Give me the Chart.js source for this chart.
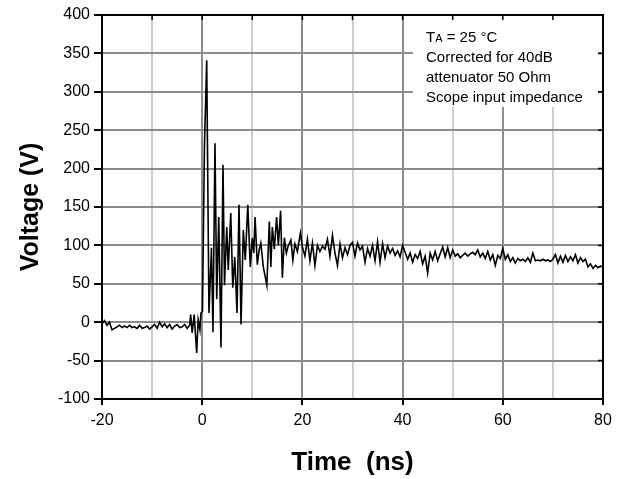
<!DOCTYPE html>
<html>
<head>
<meta charset="utf-8">
<script src="https://cdn.jsdelivr.net/npm/chart.js@4/dist/chart.umd.min.js"></script>
<style>
    html, body { margin: 0; padding: 0; background: #fff; }
    #wrap { width: 624px; height: 479px; position: relative; }
</style>
</head>
<body>
<div id="wrap"><canvas id="pulse-chart"></canvas></div>
<script>
// pre-trigger baseline, sampled every 0.5 ns from -20 ns
const preStart = -20;
const preStep = 0.5;
const preVoltage = [-2, 2, -4, 0, -10, -8, -6, -4, -7, -5, -7, -4, -7, -6, -8, -4, -8, -7,
    -5, -9, -6, -3, -8, 0, -6, -2, -7, -3, -9, -5, -3, -7, -6, -3, -8, -4];

// ringing around the edge, read peak by peak
const burstTime = [-2.3, -2.0, -1.6, -1.1, -0.8, -0.45, -0.25, 0.05, 0.45, 0.9, 1.35, 1.85, 2.15, 2.55,
    2.9, 3.3, 3.75, 4.15, 4.45, 4.9, 5.2, 5.7, 6.1, 6.5, 6.95, 7.35, 7.75, 8.2, 8.6, 9.1, 9.6, 10.0,
    10.3, 10.55, 11.0, 11.4, 11.7, 12.2, 12.9, 13.4, 13.7, 14.0, 14.4, 14.85, 15.2, 15.65, 16.0, 16.4,
    16.8, 17.2, 17.7, 18.1, 18.5, 19.0, 19.6, 20.0];
const burstVoltage = [10, -14, 10, -40, 3, -10, 12, 14, 230, 341, 12, 97, -13, 233,
    30, 137, -33, 205, 48, 124, 68, 142, 45, 85, 12, 153, -3, 120, 81, 153, 72, 110,
    90, 137, 75, 95, 103, 72, 48, 131, 72, 124, 95, 137, 100, 145, 58, 110,
    90, 100, 107, 81, 102, 92, 116, 98];

// settling tail, sampled every 0.5 ns from 20.5 ns
const tailStart = 20.5;
const tailStep = 0.5;
const tailVoltage = [86, 108, 80, 103, 74, 100, 92, 99, 95, 108, 86, 113, 90, 74, 102, 84, 97, 88, 100, 104,
    86, 103, 94, 99, 78, 96, 86, 100, 80, 105, 78, 102, 84, 99, 90, 96, 87, 93, 85, 100,
    91, 82, 90, 78, 88, 83, 92, 76, 86, 64, 90, 81, 92, 80, 89, 98, 85, 97, 84, 94,
    86, 89, 84, 87, 90, 86, 89, 91, 88, 94, 85, 90, 83, 92, 81, 88, 74, 87, 83, 96,
    82, 88, 79, 84, 77, 83, 80, 82, 79, 84, 78, 90, 80, 81, 80, 82, 80, 81, 79, 82,
    88, 77, 86, 78, 87, 79, 85, 80, 88, 77, 84, 79, 82, 72, 76, 70, 74, 71, 73, 72];

const xTicksMajor = [-20, 0, 20, 40, 60, 80];
const noteLines = ["Corrected for 40dB", "attenuator 50 Ohm", "Scope input impedance"];

const points = [];
preVoltage.forEach((v, i) => points.push({x: preStart + i * preStep, y: v}));
burstTime.forEach((t, i) => points.push({x: t, y: burstVoltage[i]}));
tailVoltage.forEach((v, i) => points.push({x: tailStart + i * tailStep, y: v}));

const fontFamily = "'Liberation Sans', Arial, sans-serif";

const framePlugin = {
    id: "frame",
    beforeDatasetsDraw(chart) {
        const ctx = chart.ctx;
        const area = chart.chartArea;
        // white note box over the grid
        ctx.save();
        ctx.fillStyle = "#fff";
        ctx.fillRect(413, area.top, area.right - 5 - 413, 107 - area.top);

        ctx.fillStyle = "#000";
        ctx.textBaseline = "alphabetic";
        ctx.font = "15px " + fontFamily;
        let x = 426;
        ctx.fillText("T", x, 42);
        x += ctx.measureText("T").width;
        ctx.font = "11px " + fontFamily;
        ctx.fillText("A", x, 42);
        x += ctx.measureText("A").width;
        ctx.font = "15px " + fontFamily;
        ctx.fillText(" = 25 \u00b0C", x, 42);
        noteLines.forEach((line, i) => ctx.fillText(line, 426, 62 + i * 20));
        ctx.restore();
    },
    afterDraw(chart) {
        const ctx = chart.ctx;
        const area = chart.chartArea;
        const xs = chart.scales.x;
        const ys = chart.scales.y;
        ctx.save();
        ctx.strokeStyle = "#000";
        ctx.lineWidth = 1.5;
        ctx.beginPath();
        xs.ticks.forEach(t => {
            const px = xs.getPixelForValue(t.value);
            ctx.moveTo(px, area.top);
            ctx.lineTo(px, area.top + 5);
        });
        ys.ticks.forEach(t => {
            const py = ys.getPixelForValue(t.value);
            ctx.moveTo(area.right, py);
            ctx.lineTo(area.right - 5, py);
        });
        ctx.stroke();
        ctx.lineWidth = 2;
        ctx.strokeRect(area.left, area.top, area.right - area.left, area.bottom - area.top);
        ctx.restore();
    }
};

new Chart(document.getElementById("pulse-chart").getContext("2d"), {
    type: "line",
    data: {
        datasets: [{
            data: points,
            borderColor: "#000",
            borderWidth: 1.6,
            pointRadius: 0,
            tension: 0,
            fill: false
        }]
    },
    options: {
        responsive: true,
        maintainAspectRatio: false,
        animation: false,
        layout: {padding: {top: 15, right: 21, left: 0, bottom: 0}},
        plugins: {legend: {display: false}, tooltip: {enabled: false}},
        scales: {
            x: {
                type: "linear",
                min: -20,
                max: 80,
                afterFit: scale => { scale.height = 80; },
                ticks: {
                    stepSize: 10,
                    autoSkip: false,
                    maxRotation: 0,
                    padding: 6,
                    color: "#000",
                    font: {family: fontFamily, size: 16},
                    callback: v => xTicksMajor.includes(v) ? v : ""
                },
                grid: {
                    lineWidth: 2,
                    color: c => xTicksMajor.includes(c.tick.value) ? "#8c8c8c" : "#cdcdcd",
                    tickColor: c => xTicksMajor.includes(c.tick.value) ? "#000" : "rgba(0,0,0,0)",
                    tickLength: 6
                },
                border: {color: "#000", width: 2},
                title: {
                    display: true,
                    text: "Time  (ns)",
                    color: "#000",
                    font: {family: fontFamily, size: 26, weight: "bold"},
                    padding: {top: 0, bottom: 1}
                }
            },
            y: {
                min: -100,
                max: 400,
                afterFit: scale => { scale.width = 102; },
                ticks: {
                    stepSize: 50,
                    padding: 4,
                    color: "#000",
                    font: {family: fontFamily, size: 16}
                },
                grid: {
                    lineWidth: 2,
                    color: "#8c8c8c",
                    tickColor: "#000",
                    tickLength: 8
                },
                border: {color: "#000", width: 2},
                title: {
                    display: true,
                    text: "Voltage (V)",
                    color: "#000",
                    font: {family: fontFamily, size: 25, weight: "bold"},
                    padding: {top: 16, bottom: 0}
                }
            }
        }
    },
    plugins: [framePlugin]
});
</script>
</body>
</html>
